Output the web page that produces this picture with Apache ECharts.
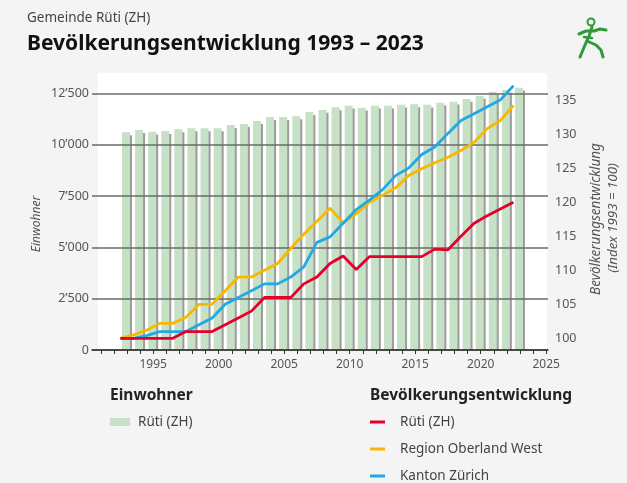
<!DOCTYPE html>
<html><head><meta charset="utf-8">
<script src="https://cdn.jsdelivr.net/npm/echarts@6/dist/echarts.min.js"></script>
<style>html,body{margin:0;padding:0;background:#f4f4f4}#c{width:627px;height:483px}</style>
</head><body><div id="c"></div>
<script>
// ---- data ----
const years = [1993,1994,1995,1996,1997,1998,1999,2000,2001,2002,2003,2004,2005,2006,2007,2008,2009,2010,2011,2012,2013,2014,2015,2016,2017,2018,2019,2020,2021,2022,2023];
const einwohner = [10600,10710,10630,10660,10745,10795,10795,10795,10955,11005,11150,11345,11345,11380,11590,11690,11820,11900,11800,11900,11900,11945,11965,11945,12045,12095,12225,12370,12580,12665,12775];
const indexRueti = [100,100,100,100,100,101,101,101,102,103,104,106,106,106,108,109,111,112.1,110.1,112,112,112,112,112,113.1,113,115,116.9,118,119,120];
const indexOberland = [100,100.5,101.2,102.2,102.2,103.1,105,105,107,109,109,110,111,113.2,115.3,117.2,119.1,117,118.3,120,121,122.1,123.9,124.9,125.8,126.6,127.6,128.8,130.8,132,134.2];
const indexKanton = [100,100,100.4,101,101,101,102,103,105,106,107,108,108,109,110.5,114.1,114.9,116.9,118.9,120.3,121.8,123.9,125,127,128.1,130.1,132,133,134,135,137.1];
const xLabelYears = [1995,2000,2005,2010,2015,2020,2025];
const leftTicks = [0,2500,5000,7500,10000,12500];
const rightTicks = [100,105,110,115,120,125,130,135];
const xTickYears = [];
for (let y = 1991; y <= 2025; y++) xTickYears.push(y);

const F = 'Noto Sans';
const chart = echarts.init(document.getElementById('c'), null, {renderer: 'canvas'});
const fmtThousands = v => {
  const s = String(Math.round(v));
  return s.length > 3 ? s.slice(0, s.length - 3) + '\u2019' + s.slice(s.length - 3) : s;
};
const isTick = (v, list) => list.some(t => Math.abs(t - v) < 1e-6);

chart.setOption({
  backgroundColor: '#f4f4f4',
  animation: false,
  textStyle: {fontFamily: F},
  title: [
    {text: 'Gemeinde Rüti (ZH)', left: 27, top: 11, padding: 0,
     textStyle: {fontFamily: F, fontSize: 13.5, fontWeight: 'normal', color: '#444'}},
    {text: 'Bevölkerungsentwicklung 1993 – 2023', left: 27, top: 34, padding: 0,
     textStyle: {fontFamily: F, fontSize: 21, fontWeight: 'bold', color: '#111'}},
    {text: 'Einwohner', left: 110, top: 388, padding: 0,
     textStyle: {fontFamily: F, fontSize: 15.5, fontWeight: 'bold', color: '#222'}},
    {text: 'Bevölkerungsentwicklung', left: 370, top: 388, padding: 0,
     textStyle: {fontFamily: F, fontSize: 15.5, fontWeight: 'bold', color: '#222'}}
  ],
  legend: [
    {data: ['Rüti (ZH)'], left: 110, top: 415, padding: 0, icon: 'rect', itemWidth: 20, itemHeight: 8,
     selectedMode: false, textStyle: {fontFamily: F, fontSize: 13.5, color: '#444', padding: [0,0,0,3]}},
    {data: ['Rüti (ZH) ', 'Region Oberland West', 'Kanton Zürich'], orient: 'vertical', left: 370, top: 415,
     padding: 0, icon: 'rect', itemWidth: 15, itemHeight: 3, itemGap: 13, selectedMode: false,
     textStyle: {fontFamily: F, fontSize: 13.5, color: '#444', padding: [0,0,0,10]}}
  ],
  grid: {left: 92, right: 79, top: 73, bottom: 133, containLabel: false, outerBoundsMode: 'none'},
  xAxis: {
    type: 'value', min: 1990.33, max: 2025.14, minInterval: 1, maxInterval: 1, splitNumber: 35, z: 3,
    axisLine: {show: true, lineStyle: {color: '#333', width: 1.5}},
    axisTick: {show: true, length: 4, lineStyle: {color: '#333', width: 1}, customValues: xTickYears},
    axisLabel: {customValues: xLabelYears, margin: 9, color: '#555', fontSize: 12, fontFamily: F,
      formatter: v => isTick(v, xLabelYears) ? String(Math.round(v)) : ''},
    splitLine: {show: false}
  },
  yAxis: [
    {type: 'value', position: 'left', min: 0, max: 13490, interval: 2500, z: 3,
     axisLine: {show: false}, axisTick: {show: false},
     axisLabel: {margin: 3, color: '#555', fontSize: 12.5, fontFamily: F, hideOverlap: false,
       formatter: v => isTick(v, leftTicks) ? fmtThousands(v) : ''},
     splitLine: {show: true, showMaxLine: false, lineStyle: {color: '#6a6a6a', width: 1.5}}},
    {type: 'value', position: 'right', min: 98.29, max: 138.97, splitNumber: 8,
     axisLine: {show: false}, axisTick: {show: false}, splitLine: {show: false},
     axisLabel: {margin: 7, color: '#555', fontSize: 12.5, fontFamily: F,
       formatter: v => isTick(v, rightTicks) ? String(Math.round(v)) : ''}}
  ],
  graphic: [
    {type: 'rect', z: 0, silent: true, shape: {x: 98, y: 73, width: 449, height: 277}, style: {fill: '#ffffff'}},
    {type: 'text', z: 10, x: 37, y: 224, rotation: Math.PI / 2,
     style: {text: 'Einwohner', align: 'center', verticalAlign: 'middle', fontFamily: F, fontSize: 12, fontStyle: 'italic', fill: '#555'}},
    {type: 'text', z: 10, x: 596, y: 219, rotation: Math.PI / 2,
     style: {text: 'Bevölkerungsentwicklung', align: 'center', verticalAlign: 'middle', fontFamily: F, fontSize: 13.5, fontStyle: 'italic', fill: '#555'}},
    {type: 'text', z: 10, x: 613, y: 218, rotation: Math.PI / 2,
     style: {text: '(Index 1993 = 100)', align: 'center', verticalAlign: 'middle', fontFamily: F, fontSize: 13.3, fontStyle: 'italic', fill: '#555'}},
    // logo
    {type: 'group', z: 10, children: [
      {type: 'circle', shape: {cx: 591, cy: 22, r: 3.5}, style: {fill: 'none', stroke: '#2e9a3a', lineWidth: 2}},
      {type: 'polyline', shape: {points: [[579,34],[586,31],[594,31],[600,29],[606,30]]}, style: {fill: 'none', stroke: '#2e9a3a', lineWidth: 3, lineCap: 'round', lineJoin: 'round'}},
      {type: 'polyline', shape: {points: [[592,27],[589,36],[585,45],[580,57]]}, style: {fill: 'none', stroke: '#2e9a3a', lineWidth: 3, lineCap: 'round', lineJoin: 'round'}},
      {type: 'polyline', shape: {points: [[587,41],[596,45],[601,50],[603,57]]}, style: {fill: 'none', stroke: '#2e9a3a', lineWidth: 3, lineCap: 'round', lineJoin: 'round'}},
      {type: 'polyline', shape: {points: [[584,37],[592,38]]}, style: {fill: 'none', stroke: '#2e9a3a', lineWidth: 2.5, lineCap: 'round'}}
    ]}
  ],
  series: [
    {name: 'Rüti (ZH)', type: 'bar', xAxisIndex: 0, yAxisIndex: 0, z: 2, barWidth: 8, barGap: '-75%',
     itemStyle: {color: '#c6e1c6'}, data: years.map((y, i) => [y, einwohner[i]])},
    {name: 'Schatten', type: 'bar', xAxisIndex: 0, yAxisIndex: 0, z: 1, barWidth: 8, silent: true,
     itemStyle: {color: '#9c9c9c'}, data: years.map((y, i) => [y, einwohner[i] - 140])},
    {name: 'Rüti (ZH) ', type: 'line', yAxisIndex: 1, z: 6, symbol: 'none', color: '#e4002b',
     lineStyle: {width: 2.8, color: '#e4002b'}, data: years.map((y, i) => [y - 0.5, indexRueti[i]])},
    {name: 'Region Oberland West', type: 'line', yAxisIndex: 1, z: 4, symbol: 'none', color: '#f8b800',
     lineStyle: {width: 2.8, color: '#f8b800'}, data: years.map((y, i) => [y - 0.5, indexOberland[i]])},
    {name: 'Kanton Zürich', type: 'line', yAxisIndex: 1, z: 5, symbol: 'none', color: '#1fa9e6',
     lineStyle: {width: 2.8, color: '#1fa9e6'}, data: years.map((y, i) => [y - 0.5, indexKanton[i]])}
  ]
});
</script></body></html>
